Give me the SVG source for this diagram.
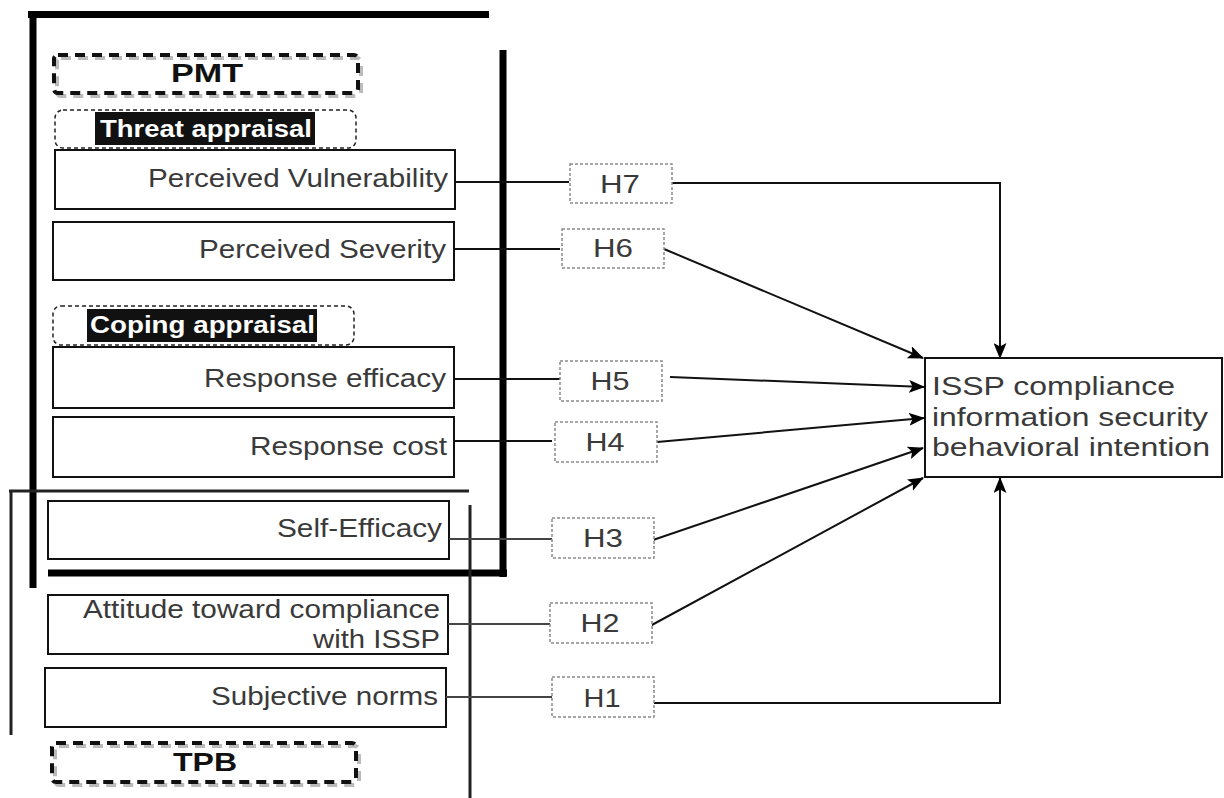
<svg xmlns="http://www.w3.org/2000/svg" width="1224" height="798" viewBox="0 0 1224 798">
<defs>
<style>
.box{fill:#fff;stroke:#111;stroke-width:2}
.lbl{font-family:"Liberation Sans",Arial,sans-serif;font-size:25px;fill:#3a3a3a}
.hb{fill:#fff;stroke:#8a8a8a;stroke-width:1.5;stroke-dasharray:3 2}
.hl{font-family:"Liberation Sans",Arial,sans-serif;font-size:26px;fill:#3a3a3a;text-anchor:middle}
.hdr{font-family:"Liberation Sans",Arial,sans-serif;font-size:25px;font-weight:bold;fill:#111;text-anchor:middle}
.big{fill:none;stroke:#111;stroke-width:4;stroke-dasharray:10 7}
.bigsh{fill:none;stroke:#bbb;stroke-width:4;stroke-dasharray:10 7}
.sub{fill:none;stroke:#222;stroke-width:1.5;stroke-dasharray:4 3}
.subt{font-family:"Liberation Sans",Arial,sans-serif;font-size:24px;font-weight:bold;fill:#fff}
.thick{stroke:#000;stroke-width:7;fill:none}
.tpb{stroke:#222;stroke-width:3;fill:none}
.c{stroke:#111;stroke-width:2;fill:none}
.cg{stroke:#444;stroke-width:2;fill:none}
.ca{stroke:#111;stroke-width:2;fill:none;marker-end:url(#arr)}
</style>
<marker id="arr" viewBox="0 0 16 13" refX="15" refY="6.5" markerWidth="16" markerHeight="13" markerUnits="userSpaceOnUse" orient="auto">
<path d="M0,0 L16,6.5 L0,13 L3.5,6.5 z" fill="#000"/>
</marker>
</defs>
<rect width="1224" height="798" fill="#fff"/>

<g id="pmt-frame">
<line class="thick" x1="28" y1="14.5" x2="489" y2="14.5"/>
<line class="thick" x1="33" y1="11" x2="33" y2="588"/>
<line class="thick" x1="503" y1="50" x2="503" y2="577"/>
<line class="thick" x1="48" y1="573" x2="507" y2="573"/>
</g>

<g id="tpb-frame">
<line class="tpb" x1="9" y1="491" x2="469" y2="491"/>
<line class="tpb" x1="11" y1="491" x2="11" y2="735"/>
<line class="tpb" x1="470" y1="505" x2="470" y2="798"/>
</g>

<g id="pmt-label">
<rect class="bigsh" x="57" y="58" width="304" height="38" rx="4"/>
<rect class="big" x="54" y="55" width="304" height="38" rx="4" fill="#fff"/>
<text class="hdr" x="207" y="82" textLength="72" lengthAdjust="spacingAndGlyphs">PMT</text>
</g>

<g id="threat-appraisal">
<rect class="sub" x="55" y="110" width="301" height="38" rx="8"/>
<rect x="95" y="112" width="220" height="33" fill="#111"/>
<text class="subt" x="100" y="137" textLength="212" lengthAdjust="spacingAndGlyphs">Threat appraisal</text>
</g>

<g id="perceived-vulnerability">
<rect class="box" x="55" y="150" width="400" height="59"/>
<text class="lbl" x="148" y="187" textLength="300" lengthAdjust="spacingAndGlyphs">Perceived Vulnerability</text>
</g>

<g id="perceived-severity">
<rect class="box" x="53" y="222" width="401" height="58"/>
<text class="lbl" x="199" y="258" textLength="247" lengthAdjust="spacingAndGlyphs">Perceived Severity</text>
</g>

<g id="coping-appraisal">
<rect class="sub" x="53" y="306" width="301" height="39" rx="8"/>
<rect x="87" y="309" width="230" height="33" fill="#111"/>
<text class="subt" x="90" y="333" textLength="225" lengthAdjust="spacingAndGlyphs">Coping appraisal</text>
</g>

<g id="response-efficacy">
<rect class="box" x="53" y="347" width="401" height="61"/>
<text class="lbl" x="204" y="387" textLength="242" lengthAdjust="spacingAndGlyphs">Response efficacy</text>
</g>

<g id="response-cost">
<rect class="box" x="53" y="417" width="401" height="60"/>
<text class="lbl" x="250" y="455" textLength="197" lengthAdjust="spacingAndGlyphs">Response cost</text>
</g>

<g id="self-efficacy">
<rect class="box" x="48" y="501" width="401" height="58"/>
<text class="lbl" x="277" y="537" textLength="165" lengthAdjust="spacingAndGlyphs">Self-Efficacy</text>
</g>

<g id="attitude">
<rect class="box" x="48" y="595" width="400" height="59"/>
<text class="lbl" x="83" y="618" textLength="357" lengthAdjust="spacingAndGlyphs">Attitude toward compliance</text>
<text class="lbl" x="313" y="648" textLength="127" lengthAdjust="spacingAndGlyphs">with ISSP</text>
</g>

<g id="subjective-norms">
<rect class="box" x="45" y="668" width="401" height="59"/>
<text class="lbl" x="211" y="705" textLength="227" lengthAdjust="spacingAndGlyphs">Subjective norms</text>
</g>

<g id="tpb-label">
<rect class="bigsh" x="55" y="746" width="304" height="39" rx="4"/>
<rect class="big" x="52" y="743" width="304" height="39" rx="4" fill="#fff"/>
<text class="hdr" x="205" y="771" textLength="64" lengthAdjust="spacingAndGlyphs">TPB</text>
</g>

<g id="target">
<rect class="box" x="925" y="358" width="297" height="119"/>
<text class="lbl" x="932" y="395" font-size="26" textLength="243" lengthAdjust="spacingAndGlyphs">ISSP compliance</text>
<text class="lbl" x="932" y="426" font-size="26" textLength="276" lengthAdjust="spacingAndGlyphs">information security</text>
<text class="lbl" x="932" y="456" font-size="26" textLength="278" lengthAdjust="spacingAndGlyphs">behavioral intention</text>
</g>

<g id="connectors">
<line class="c" x1="455" y1="182" x2="569" y2="182"/>
<line class="c" x1="454" y1="249" x2="560" y2="249"/>
<line class="c" x1="454" y1="379" x2="562" y2="379"/>
<line class="c" x1="454" y1="441" x2="552" y2="441"/>
<line class="cg" x1="449" y1="539" x2="552" y2="539"/>
<line class="cg" x1="448" y1="624" x2="550" y2="624"/>
<line class="cg" x1="446" y1="697" x2="552" y2="697"/>
<polyline class="ca" points="672,183 1000,183 1000,358"/>
<line class="ca" x1="664" y1="249" x2="923" y2="358"/>
<line class="ca" x1="670" y1="377" x2="924" y2="387"/>
<line class="ca" x1="657" y1="442" x2="924" y2="418"/>
<line class="ca" x1="653" y1="540" x2="923" y2="448"/>
<line class="ca" x1="650" y1="626" x2="923" y2="478"/>
<polyline class="ca" points="654,703 1000,703 1000,478"/>
</g>

<g id="h7"><rect class="hb" x="570" y="164" width="102" height="39"/><text class="hl" x="620" y="193" textLength="40" lengthAdjust="spacingAndGlyphs">H7</text></g>
<g id="h6"><rect class="hb" x="562" y="229" width="102" height="39"/><text class="hl" x="613" y="257" textLength="40" lengthAdjust="spacingAndGlyphs">H6</text></g>
<g id="h5"><rect class="hb" x="560" y="361" width="102" height="40"/><text class="hl" x="610" y="390" textLength="39" lengthAdjust="spacingAndGlyphs">H5</text></g>
<g id="h4"><rect class="hb" x="555" y="422" width="102" height="40"/><text class="hl" x="605" y="451" textLength="39" lengthAdjust="spacingAndGlyphs">H4</text></g>
<g id="h3"><rect class="hb" x="552" y="518" width="102" height="40"/><text class="hl" x="603" y="547" textLength="40" lengthAdjust="spacingAndGlyphs">H3</text></g>
<g id="h2"><rect class="hb" x="550" y="603" width="102" height="40"/><text class="hl" x="600" y="632" textLength="39" lengthAdjust="spacingAndGlyphs">H2</text></g>
<g id="h1"><rect class="hb" x="552" y="677" width="102" height="40"/><text class="hl" x="602" y="707" textLength="37" lengthAdjust="spacingAndGlyphs">H1</text></g>
</svg>
